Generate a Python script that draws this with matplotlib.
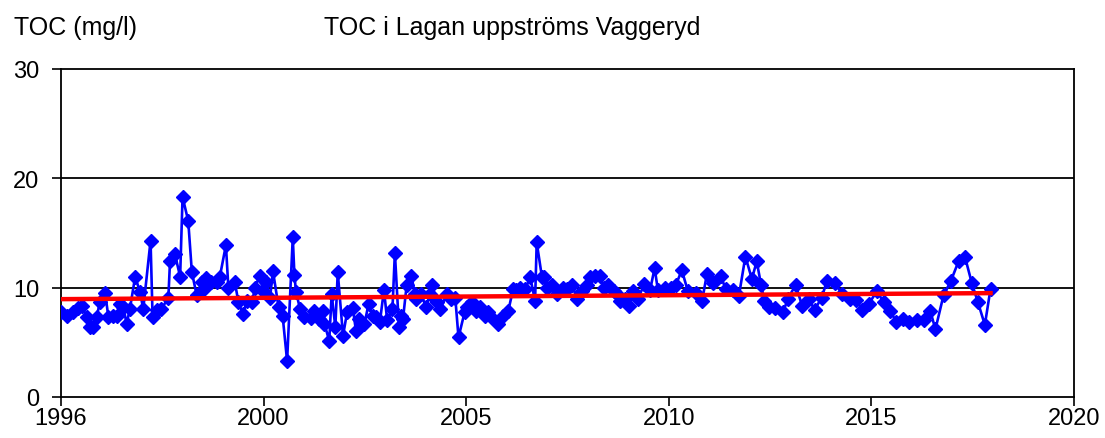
import matplotlib
matplotlib.use("Agg")
import matplotlib.pyplot as plt

plt.rcParams['font.family'] = ['Liberation Sans', 'DejaVu Sans']

# Sample dates (decimal years) and TOC values (mg/l)
dates = [
    1995.0, 1995.14, 1995.3, 1995.42, 1995.52, 1995.63, 1995.71, 1995.8, 1995.88, 1995.96,
    1996.09, 1996.17, 1996.29, 1996.38, 1996.46, 1996.54, 1996.62, 1996.7, 1996.83, 1996.95,
    1997.03, 1997.21, 1997.26, 1997.36, 1997.48, 1997.65, 1997.69, 1997.81, 1997.94, 1998.0,
    1998.14, 1998.23, 1998.35, 1998.47, 1998.55, 1998.59, 1998.71, 1998.84, 1998.92, 1999.07,
    1999.13, 1999.29, 1999.38, 1999.49, 1999.59, 1999.71, 1999.79, 1999.9, 1999.99, 2000.06,
    2000.16, 2000.23, 2000.37, 2000.47, 2000.58, 2000.72, 2000.76, 2000.8, 2000.9, 2001.0,
    2001.17, 2001.25, 2001.36, 2001.46, 2001.5, 2001.62, 2001.68, 2001.77, 2001.83, 2001.96,
    2002.06, 2002.2, 2002.28, 2002.36, 2002.49, 2002.59, 2002.69, 2002.77, 2002.87, 2002.97,
    2003.05, 2003.18, 2003.24, 2003.34, 2003.39, 2003.44, 2003.53, 2003.65, 2003.73, 2003.77,
    2003.89, 2004.01, 2004.1, 2004.16, 2004.28, 2004.36, 2004.52, 2004.63, 2004.73, 2004.81,
    2004.96, 2005.01, 2005.14, 2005.24, 2005.35, 2005.46, 2005.54, 2005.62, 2005.79, 2005.91,
    2006.04, 2006.16, 2006.24, 2006.34, 2006.46, 2006.58, 2006.7, 2006.74, 2006.87, 2006.91,
    2006.99, 2007.12, 2007.24, 2007.39, 2007.49, 2007.61, 2007.74, 2007.86, 2007.98, 2008.06,
    2008.19, 2008.31, 2008.39, 2008.51, 2008.64, 2008.72, 2008.79, 2008.91, 2009.03, 2009.12,
    2009.24, 2009.4, 2009.54, 2009.65, 2009.73, 2009.9, 2010.05, 2010.17, 2010.32, 2010.47,
    2010.66, 2010.82, 2010.94, 2011.1, 2011.28, 2011.4, 2011.58, 2011.73, 2011.89, 2012.05,
    2012.17, 2012.28, 2012.36, 2012.47, 2012.61, 2012.82, 2012.94, 2013.13, 2013.29, 2013.45,
    2013.6, 2013.77, 2013.91, 2014.1, 2014.28, 2014.46, 2014.62, 2014.78, 2014.94, 2015.14,
    2015.3, 2015.47, 2015.61, 2015.77, 2015.93, 2016.13, 2016.29, 2016.45, 2016.58, 2016.78,
    2016.96, 2017.15, 2017.31, 2017.48, 2017.63, 2017.8, 2017.94,
]
toc = [
    7.75, 7.4, 7.75, 8.1, 8.35, 7.3, 6.4, 6.4, 7.3, 8.7,
    9.5, 7.3, 7.4, 7.4, 8.5, 8.2, 6.7, 8.05, 11.0, 9.6,
    8.05, 14.3, 7.35, 8.0, 8.05, 9.1, 12.4, 13.1, 11.0, 18.3,
    16.1, 11.4, 9.3, 10.5, 10.0, 10.85, 10.5, 10.5, 11.0, 13.9,
    10.0, 10.5, 8.65, 7.6, 8.8, 8.65, 10.0, 11.1, 9.7, 10.5,
    9.1, 11.55, 8.2, 7.4, 3.3, 14.6, 11.2, 9.6, 8.05, 7.3,
    7.2, 7.9, 7.15, 7.9, 6.7, 5.15, 9.4, 6.4, 11.4, 5.6,
    7.75, 8.15, 6.05, 7.15, 6.7, 8.5, 7.45, 7.3, 6.85, 9.8,
    7.0, 8.05, 13.2, 6.4, 7.45, 7.15, 10.2, 11.1, 9.4, 9.0,
    9.4, 8.2, 9.4, 10.2, 8.65, 8.05, 9.4, 9.0, 9.1, 5.45,
    7.75, 8.2, 8.65, 7.9, 8.2, 7.45, 7.75, 7.3, 6.7, 7.45,
    7.9, 9.9, 9.8, 10.0, 9.9, 10.95, 8.8, 14.15, 10.95, 10.95,
    10.0, 10.2, 9.4, 10.0, 9.9, 10.2, 9.0, 9.7, 10.2, 10.95,
    11.1, 11.1, 10.0, 10.2, 9.7, 9.4, 8.8, 9.0, 8.35, 9.7,
    9.0, 10.35, 9.8, 11.8, 9.8, 10.0, 10.0, 10.2, 11.6, 9.7,
    9.5, 8.75, 11.25, 10.4, 11.1, 9.9, 9.8, 9.25, 12.85, 10.8,
    12.4, 10.2, 8.8, 8.25, 8.15, 7.75, 9.0, 10.25, 8.35, 9.0,
    7.95, 9.1, 10.65, 10.4, 9.4, 9.0, 8.9, 7.95, 8.55, 9.7,
    8.65, 7.9, 6.85, 7.15, 6.9, 7.05, 7.05, 7.9, 6.2, 9.3,
    10.6, 12.4, 12.8, 10.4, 8.65, 6.6, 9.9,
]

# Trend line end values
trend_values = [8.95, 9.5]

x_ticks = [1995, 2000, 2005, 2010, 2015, 2020]
x_tick_labels = ['1996', '2000', '2005', '2010', '2015', '2020']
y_ticks = [0, 10, 20, 30]

title = 'TOC i Lagan uppströms Vaggeryd'
ylabel = 'TOC (mg/l)'

fig = plt.figure(figsize=(11.05, 4.39), dpi=100)
ax = fig.add_axes([61/1105, 1 - 398/439, (1074 - 61)/1105, (398 - 70)/439])

ax.plot(dates, toc, color='#0000FF', linewidth=1.9, marker='D', markersize=7,
        markerfacecolor='#0000FF', markeredgecolor='#0000FF', zorder=3)
ax.plot([dates[0], dates[-1]], trend_values, color='#FF0000', linewidth=3.2, zorder=4)

ax.set_xlim(x_ticks[0], x_ticks[-1])
ax.set_ylim(y_ticks[0], y_ticks[-1])
ax.set_xticks(x_ticks)
ax.set_xticklabels(x_tick_labels)
ax.set_yticks(y_ticks)
for yv in y_ticks[1:-1]:
    ax.axhline(yv, color='black', linewidth=1.3, zorder=1)

for s in ax.spines.values():
    s.set_color('black')
    s.set_linewidth(1.3)
ax.tick_params(axis='both', direction='out', length=6.5, width=1.2, labelsize=17,
               colors='black')
ax.tick_params(axis='x', pad=1.0)
ax.tick_params(axis='y', pad=9)

fig.text(14/1105, 1 - 28/439, ylabel, fontsize=18, ha='left', va='center')
fig.text(512/1105, 1 - 28/439, title, fontsize=18, ha='center', va='center')

fig.savefig('out.png', dpi=100, facecolor='white')
